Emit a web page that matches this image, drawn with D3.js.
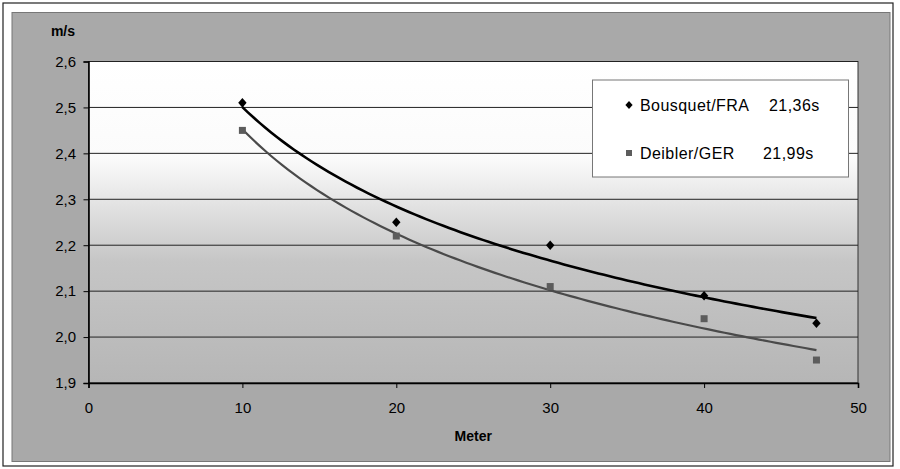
<!DOCTYPE html>
<html>
<head>
<meta charset="utf-8">
<script src="https://cdn.jsdelivr.net/npm/d3@7"></script>
<style>
  html, body { margin: 0; padding: 0; background: #fff; }
  svg { display: block; font-family: Arial, "Liberation Sans", sans-serif; }
</style>
</head>
<body>
<svg id="chart" width="900" height="469"></svg>
<script>
// Split distances (m) and average speeds (m/s)
const distances = [10, 20, 30, 40, 47.3];
const bousquet = [2.51, 2.25, 2.20, 2.09, 2.03];
const deibler = [2.45, 2.22, 2.11, 2.04, 1.95];
const seriesNames = ["Bousquet/FRA", "Deibler/GER"];
const seriesTimes = ["21,36s", "21,99s"];
const xTicks = [0, 10, 20, 30, 40, 50];
const yTicks = [1.9, 2.0, 2.1, 2.2, 2.3, 2.4, 2.5, 2.6];
const yAxisTitle = "m/s";
const xAxisTitle = "Meter";

const W = 900, H = 469;
const plot = { left: 88.5, right: 858, top: 61.5, bottom: 383 };

const svg = d3.select("#chart");
const defs = svg.append("defs");

const x = d3.scaleLinear().domain([0, 50]).range([plot.left, plot.right]);
const y = d3.scaleLinear().domain([1.9, 2.6]).range([plot.bottom, plot.top]);

const locale = d3.formatLocale({ decimal: ",", thousands: ".", grouping: [3], currency: ["", "€"] });
const fmt = locale.format(".1f");

// Outer frame and grey chart panel
svg.append("rect").attr("x", 3).attr("y", 3).attr("width", 890).attr("height", 463)
  .attr("fill", "#fff").attr("stroke", "#222").attr("stroke-width", 1.2);
svg.append("rect").attr("x", 12).attr("y", 12.5).attr("width", 878).attr("height", 449)
  .attr("fill", "#a9a9a9").attr("stroke", "#777").attr("stroke-width", 1);

// Plot area gradient: white at top fading to grey at the bottom
const grad = defs.append("linearGradient").attr("id", "plotGrad")
  .attr("x1", 0).attr("y1", 0).attr("x2", 0).attr("y2", 1);
[[0, "#ffffff"], [0.3, "#fbfbfb"], [0.45, "#e2e2e2"], [0.62, "#c6c6c6"], [1, "#b6b6b6"]]
  .forEach(([o, c]) => grad.append("stop").attr("offset", o).attr("stop-color", c));

svg.append("rect")
  .attr("x", plot.left).attr("y", plot.top)
  .attr("width", plot.right - plot.left).attr("height", plot.bottom - plot.top)
  .attr("fill", "url(#plotGrad)").attr("stroke", "#333").attr("stroke-width", 1);

// Horizontal gridlines
svg.append("g").selectAll("line").data(yTicks).join("line")
  .attr("x1", plot.left).attr("x2", plot.right)
  .attr("y1", d => y(d)).attr("y2", d => y(d))
  .attr("stroke", "#222").attr("stroke-width", 1);

// Axes
const yAxis = svg.append("g").attr("transform", `translate(${plot.left},0)`)
  .call(d3.axisLeft(y).tickValues(yTicks).tickFormat(fmt).tickSize(5).tickPadding(7.5));
const xAxis = svg.append("g").attr("transform", `translate(0,${plot.bottom})`)
  .call(d3.axisBottom(x).tickValues(xTicks).tickFormat(d3.format("d")).tickSize(5).tickPadding(14));

[yAxis, xAxis].forEach(g => {
  g.select(".domain").attr("stroke", "#000").attr("stroke-width", 1.6);
  g.selectAll(".tick line").attr("stroke", "#000").attr("stroke-width", 1);
  g.selectAll(".tick text").attr("fill", "#000").attr("font-size", 15)
    .attr("font-family", "Arial, 'Liberation Sans', sans-serif");
});

// Axis titles
svg.append("text").attr("x", 75).attr("y", 36).attr("text-anchor", "end")
  .attr("font-size", 14).attr("font-weight", "bold").text(yAxisTitle);
svg.append("text").attr("x", (plot.left + plot.right) / 2).attr("y", 441).attr("text-anchor", "middle")
  .attr("font-size", 14).attr("font-weight", "bold").text(xAxisTitle);

// Power trendline y = a * x^b fitted by least squares on the log-log data
function powerFit(xs, ys) {
  const lx = xs.map(Math.log), ly = ys.map(Math.log);
  const mx = d3.mean(lx), my = d3.mean(ly);
  const b = d3.sum(lx, (v, i) => (v - mx) * (ly[i] - my)) / d3.sum(lx, v => (v - mx) ** 2);
  const a = Math.exp(my - b * mx);
  return v => a * Math.pow(v, b);
}

const series = [
  { name: seriesNames[0], time: seriesTimes[0], values: bousquet, line: "#000", lw: 2.6, marker: "diamond", mcolor: "#000" },
  { name: seriesNames[1], time: seriesTimes[1], values: deibler, line: "#4a4a4a", lw: 2.2, marker: "square", mcolor: "#5c5c5c" }
];

const diamondPath = "M0,-4.8L4.2,0L0,4.8L-4.2,0Z";
const squarePath = "M-3.5,-3.5H3.5V3.5H-3.5Z";

const lineGen = d3.line().x(d => x(d[0])).y(d => y(d[1])).curve(d3.curveLinear);

series.forEach(s => {
  const f = powerFit(distances, s.values);
  const x0 = d3.min(distances), x1 = d3.max(distances);
  const pts = d3.range(0, 101).map(i => {
    const xv = x0 + (x1 - x0) * i / 100;
    return [xv, f(xv)];
  });
  svg.append("path").datum(pts).attr("d", lineGen)
    .attr("fill", "none").attr("stroke", s.line).attr("stroke-width", s.lw);
});

series.forEach(s => {
  svg.append("g").selectAll("path").data(s.values).join("path")
    .attr("d", s.marker === "diamond" ? diamondPath : squarePath)
    .attr("transform", (d, i) => `translate(${x(distances[i])},${y(d)})`)
    .attr("fill", s.mcolor);
});

// Legend
const lg = svg.append("g");
lg.append("rect").attr("x", 592.5).attr("y", 80).attr("width", 256).attr("height", 97)
  .attr("fill", "#fff").attr("stroke", "#777").attr("stroke-width", 1);
series.forEach((s, i) => {
  const cy = 105 + i * 48;
  lg.append("path").attr("d", s.marker === "diamond" ? "M0,-4L3.6,0L0,4L-3.6,0Z" : "M-3,-3H3V3H-3Z")
    .attr("transform", `translate(629,${cy})`).attr("fill", s.mcolor);
  lg.append("text").attr("x", 640).attr("y", cy + 5.5).attr("font-size", 16).attr("letter-spacing", 0.45)
    .attr("fill", "#000").text(s.name);
  lg.append("text").attr("x", i === 0 ? 769 : 763).attr("y", cy + 5.5).attr("font-size", 16).attr("letter-spacing", 0.45)
    .attr("fill", "#000").text(s.time);
});
</script>
</body>
</html>
